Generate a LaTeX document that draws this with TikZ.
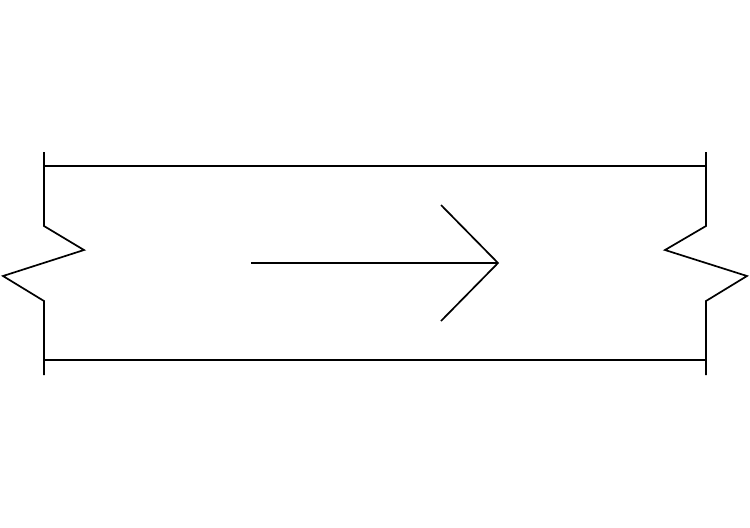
\documentclass[tikz,border=0pt]{standalone}
\usepackage{tikz}

\begin{document}
\begin{tikzpicture}[x=0.5pt, y=-0.5pt, edge/.style={draw, line width=0.85pt, line join=miter}, arrow/.style={draw, line width=0.85pt}]
    \useasboundingbox (0,0) rectangle (750,527);
    % corners of the member
    \coordinate (lt) at (44,152);
    \coordinate (lb) at (44,375);
    \coordinate (rt) at (706,152);
    \coordinate (rb) at (706,375);

    % long edges
    \draw[edge] (44,166) -- (706,166);
    \draw[edge] (44,360) -- (706,360);

    % break lines
    \draw[edge] (lt) -- (44,226) -- (84,250) -- (3,276) -- (44,301) -- (lb);
    \draw[edge] (rt) -- (706,226) -- (665,250) -- (747,276) -- (706,301) -- (rb);

    % arrow
    \coordinate (tail) at (251,263);
    \coordinate (tip) at (498,263);
    \draw[arrow] (tail) -- (tip);
    \draw[arrow, line join=miter] (441,205) -- (tip) -- (441,321);
\end{tikzpicture}
\end{document}
